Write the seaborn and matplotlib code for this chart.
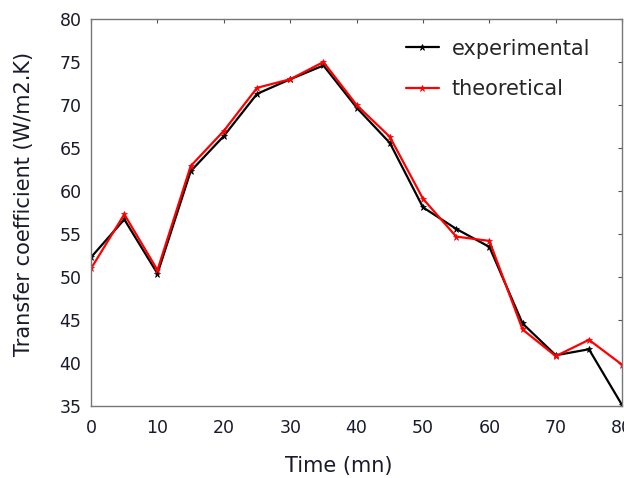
import matplotlib
matplotlib.use("Agg")
from matplotlib import pyplot as plt
import pandas as pd
import seaborn as sns

time_mn = [0, 5, 10, 15, 20, 25, 30, 35, 40, 45, 50, 55, 60, 65, 70, 75, 80]
experimental = [52.3, 56.7, 50.4, 62.3, 66.4, 71.3, 73.0, 74.6, 69.7, 65.6,
                58.1, 55.6, 53.5, 44.6, 40.9, 41.6, 35.1]
theoretical = [51.0, 57.3, 50.8, 62.9, 67.0, 72.0, 73.0, 75.0, 70.0, 66.3,
               59.1, 54.7, 54.2, 43.9, 40.8, 42.7, 39.8]
series_names = ["experimental", "theoretical"]
series_colors = ["black", "red"]

df = pd.DataFrame({
    "time": time_mn * 2,
    "value": experimental + theoretical,
    "series": [series_names[0]] * len(time_mn) + [series_names[1]] * len(time_mn),
})

sns.set_style("white")
plt.rcParams["font.family"] = ["DejaVu Sans"]

fig = plt.figure(figsize=(6.24, 4.78), dpi=100)
ax = fig.add_axes([0.146, 0.1506, 0.851, 0.8096])

sns.lineplot(
    data=df, x="time", y="value", hue="series",
    palette=dict(zip(series_names, series_colors)),
    marker="*", markersize=5, markeredgewidth=0.5,
    linewidth=1.6, ax=ax,
)
# seaborn gives the markers white edges; colour them like their lines
for ln in ax.lines:
    ln.set_markeredgecolor(ln.get_color())

ax.set_xlim(0, 80)
ax.set_ylim(35, 80)
ax.set_xticks(range(0, 81, 10))
ax.set_yticks(range(35, 81, 5))
ax.tick_params(direction="in", length=3, top=True, right=True,
               labelsize=12.5, labelcolor="#1a1a2e", color="#555555")
ax.tick_params(axis="x", pad=9)
ax.tick_params(axis="y", pad=7)
for s in ax.spines.values():
    s.set_color("#777777")
    s.set_linewidth(1.0)

ax.set_xlabel("Time (mn)", fontsize=15, color="#1a1a2e")
ax.set_ylabel("Transfer coefficient (W/m2.K)", fontsize=15, color="#1a1a2e")
ax.xaxis.set_label_coords(0.467, -0.128)
ax.yaxis.set_label_coords(-0.108, 0.522)

leg = ax.legend(title=None, frameon=False, fontsize=15, loc="upper right",
                bbox_to_anchor=(0.975, 0.998), handlelength=1.6, handletextpad=0.6,
                labelspacing=1.0)
for h in leg.legend_handles:
    h.set_markeredgecolor(h.get_color())

fig.savefig("out.png", dpi=100)
